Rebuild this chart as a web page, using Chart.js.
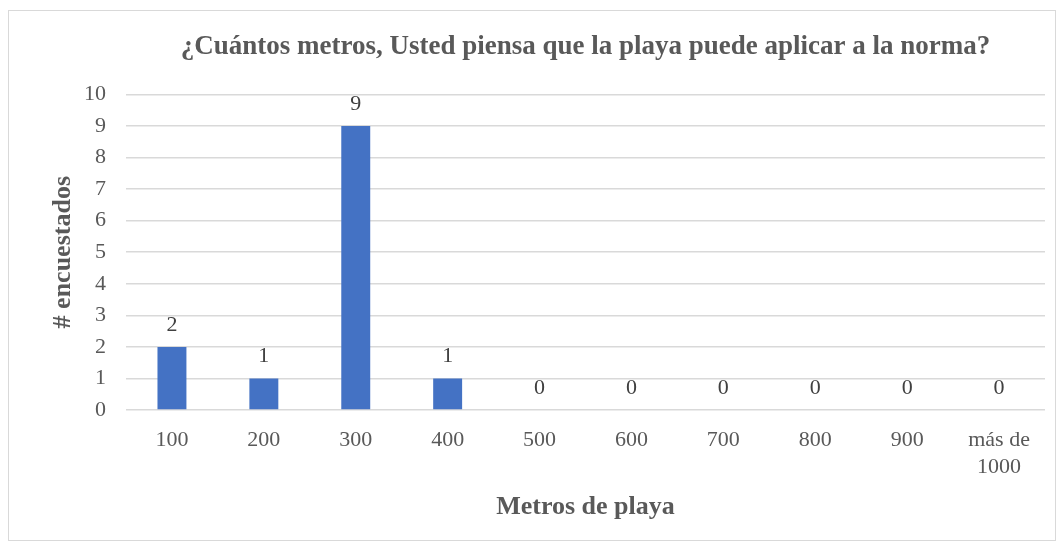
<!DOCTYPE html>
<html>
<head>
<meta charset="utf-8">
<script src="https://cdn.jsdelivr.net/npm/chart.js@4.4.0/dist/chart.umd.min.js"></script>
<style>
  html, body { margin: 0; padding: 0; background: #fff; }
  #box {
    position: absolute; left: 8px; top: 10px;
    width: 1046px; height: 529px;
    border: 1px solid #d9d9d9;
  }
</style>
</head>
<body>
<div id="box"><canvas id="chart"></canvas></div>
<script>
// Chart data
const categories = ['100', '200', '300', '400', '500', '600', '700', '800', '900', ['más de', '1000']];
const respondents = [2, 1, 9, 1, 0, 0, 0, 0, 0, 0];
const yTicks = [0, 1, 2, 3, 4, 5, 6, 7, 8, 9, 10];

const textColor = '#595959';
const fontFamily = '"Liberation Serif", "Times New Roman", serif';

// Draw value labels above each bar
const valueLabels = {
    id: 'valueLabels',
    afterDatasetsDraw(chart) {
        const ctx = chart.ctx;
        const meta = chart.getDatasetMeta(0);
        ctx.save();
        ctx.font = '22px ' + fontFamily;
        ctx.fillStyle = '#404040';
        ctx.textAlign = 'center';
        ctx.textBaseline = 'middle';
        meta.data.forEach((bar, i) => {
            ctx.fillText(String(respondents[i]), bar.x, bar.y - 22);
        });
        ctx.restore();
    }
};

const ctx = document.getElementById('chart').getContext('2d');
new Chart(ctx, {
    type: 'bar',
    data: {
        labels: categories,
        datasets: [{
            data: respondents,
            backgroundColor: '#4472c4',
            borderWidth: 0,
            categoryPercentage: 1,
            barPercentage: 0.315
        }]
    },
    options: {
        responsive: true,
        maintainAspectRatio: false,
        animation: false,
        layout: {
            padding: { left: 0, right: 10, top: 0, bottom: 0 }
        },
        scales: {
            y: {
                min: 0,
                max: 10,
                afterBuildTicks(scale) {
                    scale.ticks = yTicks.map(v => ({ value: v }));
                },
                afterFit(scale) {
                    scale.width = 117;
                },
                grid: {
                    color: '#d9d9d9',
                    lineWidth: 1.5,
                    drawTicks: false
                },
                border: { display: false },
                ticks: {
                    color: textColor,
                    padding: 20,
                    font: { family: fontFamily, size: 22 }
                },
                title: {
                    display: true,
                    text: '# encuestados',
                    color: textColor,
                    padding: { top: 39, bottom: 0 },
                    font: { family: fontFamily, size: 26, weight: 'bold' }
                }
            },
            x: {
                afterFit(scale) {
                    scale.height = 130;
                },
                grid: { display: false, drawTicks: false },
                border: { display: false },
                ticks: {
                    color: textColor,
                    padding: 16,
                    maxRotation: 0,
                    font: { family: fontFamily, size: 22, lineHeight: 1.25 }
                },
                title: {
                    display: true,
                    text: 'Metros de playa',
                    color: textColor,
                    padding: { top: 0, bottom: 17 },
                    font: { family: fontFamily, size: 26, weight: 'bold' }
                }
            }
        },
        plugins: {
            legend: { display: false },
            tooltip: { enabled: false },
            title: {
                display: true,
                fullSize: false,
                text: '¿Cuántos metros, Usted piensa que la playa puede aplicar a la norma?',
                color: textColor,
                padding: { top: 20, bottom: 31 },
                font: { family: fontFamily, size: 27, weight: 'bold' }
            }
        }
    },
    plugins: [valueLabels]
});
</script>
</body>
</html>
